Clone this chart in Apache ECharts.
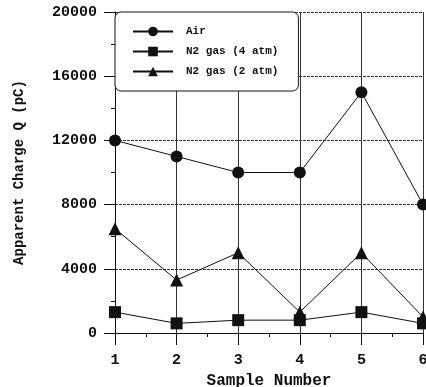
<!DOCTYPE html>
<html><head><meta charset="utf-8">
<script src="https://cdn.jsdelivr.net/npm/echarts@6/dist/echarts.min.js"></script>
<style>html,body{margin:0;padding:0;background:#fff}#c{width:426px;height:387px}</style>
</head><body><div id="c"></div>
<script>
const samples = [1, 2, 3, 4, 5, 6];
const airValues = [12000, 11000, 10000, 10000, 15000, 8000];
const n2_4atmValues = [1300, 600, 800, 800, 1300, 600];
const n2_2atmValues = [6500, 3300, 5000, 1300, 5000, 1000];
const seriesNames = ['Air', 'N2 gas (4 atm)', 'N2 gas (2 atm)'];
const yTicks = [0, 4000, 8000, 12000, 16000, 20000];

const font = '"Liberation Mono", "DejaVu Sans Mono", monospace';
function pairs(vals){ return samples.map((s,i)=>[s, vals[i]]); }
const mk = (name, vals, symbol, size) => ({
  name, type:'line', data:pairs(vals), symbol, symbolSize:size,
  lineStyle:{color:'#111', width:1}, itemStyle:{color:'#111'},
  clip:false, animation:false, z:5
});
const chart = echarts.init(document.getElementById('c'), null, {renderer:'canvas'});
chart.setOption({
  animation:false,
  backgroundColor:'#fff',
  grid:{left:115, right:3, top:12, bottom:54, containLabel:false, outerBoundsMode:'none'},
  legend:{
    orient:'vertical', left:115, top:12,
    padding:[14, 20, 14, 17],
    itemWidth:40, itemHeight:12, itemGap:9,
    borderColor:'#111', borderWidth:1, borderRadius:6,
    backgroundColor:'#fff',
    textStyle:{fontFamily:font, fontWeight:'bold', fontSize:11, color:'#111', padding:[0,0,0,8]},
    data:seriesNames
  },
  xAxis:{
    type:'value', min:1, max:6, interval:1,
    name:'Sample Number', nameLocation:'middle', nameGap:36,
    nameTextStyle:{fontFamily:font, fontWeight:'bold', fontSize:16, color:'#111'},
    axisLine:{onZero:false, lineStyle:{color:'#111', width:1}},
    axisTick:{show:true, inside:false, length:12, lineStyle:{color:'#111'}},
    minorTick:{show:true, splitNumber:2, length:4, lineStyle:{color:'#111'}},
    axisLabel:{margin:20, fontFamily:font, fontWeight:'bold', fontSize:15, color:'#111'},
    splitLine:{show:true, lineStyle:{color:'#333', width:1}}
  },
  yAxis:{
    type:'value', min:0, max:20000, interval:4000,
    name:'Apparent Charge Q (pC)', nameLocation:'middle', nameGap:89, nameRotate:90,
    nameTextStyle:{fontFamily:font, fontWeight:'bold', fontSize:14, color:'#111'},
    axisLine:{show:true, lineStyle:{color:'#111', width:1}},
    axisTick:{show:true, inside:false, length:11, lineStyle:{color:'#111'}},
    minorTick:{show:true, splitNumber:2, length:4, lineStyle:{color:'#111'}},
    axisLabel:{margin:18, fontFamily:font, fontWeight:'bold', fontSize:15, color:'#111',
      formatter:v=>yTicks.includes(v)?String(v):''},
    splitLine:{show:true, lineStyle:{color:'#333', width:1, type:[3,1]}}
  },
  series:[
    mk(seriesNames[0], airValues, 'circle', 12),
    mk(seriesNames[1], n2_4atmValues, 'rect', 12),
    mk(seriesNames[2], n2_2atmValues, 'triangle', 13)
  ]
});
</script></body></html>
